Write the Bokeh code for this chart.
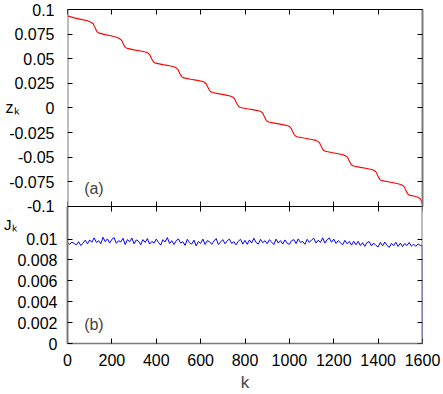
from bokeh.plotting import figure
from bokeh.models import Range1d, LinearAxis, FixedTicker, Label
from bokeh.embed import file_html
from bokeh.resources import INLINE

FONT = "Liberation Sans"

# ---- data ----
z_k = [0, 30, 60, 90, 108,
       116, 121, 125, 129, 134, 142, 170, 200, 225, 236,
       243, 248, 252, 256, 261, 269, 300, 330, 355, 364,
       371, 376, 380, 384, 389, 397, 430, 460, 482, 491,
       498, 503, 507, 511, 516, 524, 555, 585, 610, 619,
       626, 631, 635, 639, 644, 652, 685, 715, 737, 746,
       753, 758, 762, 766, 771, 779, 810, 840, 865, 874,
       881, 886, 890, 894, 899, 907, 940, 970, 993, 1002,
       1008, 1013, 1017, 1021, 1026, 1034, 1065, 1095, 1120, 1129,
       1136, 1141, 1145, 1149, 1154, 1162, 1195, 1225, 1247, 1256,
       1263, 1268, 1272, 1276, 1281, 1289, 1320, 1350, 1375, 1384,
       1391, 1396, 1400, 1404, 1409, 1417, 1450, 1480, 1502, 1511,
       1518, 1523, 1527, 1531, 1536, 1544, 1565, 1580, 1590, 1595, 1599]
z_val = [0.0935, 0.0915, 0.0900, 0.0885, 0.0868,
         0.0855, 0.0830, 0.0812, 0.0790, 0.0772, 0.0760, 0.0745, 0.0730, 0.0715, 0.0702,
         0.0690, 0.0667, 0.0650, 0.0630, 0.0615, 0.0605, 0.0590, 0.0578, 0.0565, 0.0555,
         0.0540, 0.0515, 0.0498, 0.0480, 0.0465, 0.0455, 0.0440, 0.0428, 0.0415, 0.0405,
         0.0390, 0.0365, 0.0348, 0.0330, 0.0315, 0.0305, 0.0292, 0.0280, 0.0268, 0.0258,
         0.0243, 0.0218, 0.0200, 0.0182, 0.0167, 0.0157, 0.0143, 0.0130, 0.0118, 0.0108,
         0.0093, 0.0068, 0.0050, 0.0032, 0.0017, 0.0005, -0.0008, -0.0020, -0.0032, -0.0042,
         -0.0057, -0.0082, -0.0100, -0.0118, -0.0133, -0.0143, -0.0157, -0.0170, -0.0182, -0.0192,
         -0.0207, -0.0232, -0.0250, -0.0268, -0.0283, -0.0293, -0.0306, -0.0318, -0.0330, -0.0340,
         -0.0355, -0.0380, -0.0398, -0.0416, -0.0431, -0.0441, -0.0455, -0.0468, -0.0480, -0.0490,
         -0.0505, -0.0530, -0.0548, -0.0566, -0.0581, -0.0591, -0.0604, -0.0616, -0.0628, -0.0638,
         -0.0653, -0.0678, -0.0696, -0.0714, -0.0729, -0.0739, -0.0753, -0.0766, -0.0778, -0.0788,
         -0.0803, -0.0828, -0.0846, -0.0864, -0.0879, -0.0889, -0.0898, -0.0908, -0.0925, -0.0945, -0.0975]

J_k = list(range(0, 1600, 10)) + [1599, 1600]
J_val = [0.00965, 0.00950, 0.00972, 0.00958, 0.00945, 0.00975, 0.00938, 0.00962, 0.00990, 0.00955,
         0.00992, 0.00970, 0.01012, 0.00968, 0.00985, 0.00955, 0.01018, 0.00975, 0.01002, 0.00962,
         0.00998, 0.01015, 0.00960, 0.00985, 0.00972, 0.01008, 0.00948, 0.00995, 0.00975, 0.01010,
         0.00955, 0.00992, 0.00980, 0.00945, 0.00995, 0.00968, 0.01005, 0.00952, 0.00978, 0.00962,
         0.01000, 0.00968, 0.00942, 0.00995, 0.00972, 0.01015, 0.00958, 0.00985, 0.00948, 0.00985,
         0.01002, 0.00962, 0.00975, 0.00940, 0.00998, 0.00965, 0.00952, 0.00990, 0.00935, 0.00978,
         0.00958, 0.01000, 0.00948, 0.00985, 0.00975, 0.00950, 0.00982, 0.01005, 0.00948, 0.00972,
         0.00995, 0.00955, 0.00985, 0.01000, 0.00958, 0.00975, 0.00945, 0.00980, 0.00998, 0.00952,
         0.00988, 0.00950, 0.00992, 0.00962, 0.01008, 0.00968, 0.00952, 0.00998, 0.00965, 0.00985,
         0.00955, 0.00995, 0.00970, 0.00948, 0.01000, 0.00962, 0.00985, 0.00952, 0.00992, 0.00960,
         0.00950, 0.00985, 0.00995, 0.00958, 0.01002, 0.00968, 0.00978, 0.00950, 0.00998, 0.00968,
         0.00992, 0.01008, 0.00962, 0.00990, 0.00968, 0.01012, 0.00962, 0.00995, 0.01010, 0.00970,
         0.01000, 0.00958, 0.00985, 0.00965, 0.00945, 0.00988, 0.00955, 0.00978, 0.00942, 0.00980,
         0.00945, 0.00978, 0.00938, 0.00965, 0.00930, 0.00968, 0.00975, 0.00935, 0.00962, 0.00940,
         0.00925, 0.00968, 0.00935, 0.00972, 0.00940, 0.00920, 0.00960, 0.00938, 0.00970, 0.00930,
         0.00962, 0.00928, 0.00958, 0.00938, 0.00968, 0.00932, 0.00952, 0.00930, 0.00955, 0.00938,
         0.00940, 0.0]

x_ticks = [0, 200, 400, 600, 800, 1000, 1200, 1400, 1600]
z_ticks = [-0.1, -0.075, -0.05, -0.025, 0.0, 0.025, 0.05, 0.075, 0.1]
z_tick_labels = ["-0.1", "-0.075", "-0.05", "-0.025", "0", "0.025", "0.05", "0.075", "0.1"]
J_ticks = [0.0, 0.002, 0.004, 0.006, 0.008, 0.01]
J_tick_labels = ["0", "0.002", "0.004", "0.006", "0.008", "0.01"]
z_name = "z\u2096"      # z with subscript k
J_name = "J\u2096"      # J with subscript k
z_name_at = 0.0         # vertical position of the z_k label (z units)
J_name_at = 0.0114      # vertical position of the J_k label (J units)

# panel limits
Z_MIN, Z_MAX = -0.1, 0.1
J_MIN, J_MAX = 0.0, 0.01314
K_MIN, K_MAX = 0, 1600

GRAY = "#7a7a7a"

# frame geometry (pixels)
FR_TOP, FR_BOT = 9, 345
TOP_PANEL_PX = 198
BOT_PANEL_PX = FR_BOT - FR_TOP - TOP_PANEL_PX
FRAME_PX = FR_BOT - FR_TOP
z_span = (Z_MAX - Z_MIN) * FRAME_PX / TOP_PANEL_PX
j_span = (J_MAX - J_MIN) * FRAME_PX / BOT_PANEL_PX


def make_axis(ticks, labels=None, line_color="black", line_width=1.0, standoff=10,
              size="16px", tin=5, tout=0, **kw):
    ax = LinearAxis(ticker=FixedTicker(ticks=ticks, minor_ticks=[]), **kw)
    ax.major_tick_in = tin
    ax.major_tick_out = tout
    ax.minor_tick_in = 0
    ax.minor_tick_out = 0
    ax.major_tick_line_color = "black" if (tin or tout) else None
    ax.axis_line_color = line_color
    ax.axis_line_width = line_width
    if labels is None:
        ax.major_label_text_font_size = "0px"
        ax.major_label_standoff = 0
    else:
        ax.major_label_overrides = {t: l for t, l in zip(ticks, labels)}
        ax.major_label_text_font_size = size
        ax.major_label_standoff = standoff
        ax.major_label_text_font = FONT
        ax.major_label_text_color = "black"
    return ax


p = figure(width=443, height=394,
           x_range=Range1d(K_MIN, K_MAX),
           y_range=Range1d(Z_MAX - z_span, Z_MAX),
           x_axis_location=None, y_axis_location=None,
           output_backend="svg", toolbar_location=None,
           min_border_left=67, min_border_right=21,
           min_border_top=FR_TOP, min_border_bottom=394 - FR_BOT)
p.extra_y_ranges = {"J": Range1d(J_MIN, J_MIN + j_span)}
p.outline_line_color = None
p.grid.visible = False

# curves
p.line(z_k, z_val, line_color="#ff0000", line_width=1.1)
p.line(J_k, J_val, line_color="#0000ff", line_width=1.0, y_range_name="J")

# ---- left side (innermost first) ----
p.add_layout(make_axis(J_ticks, J_tick_labels, GRAY, 2, standoff=10,
                       bounds=(J_MIN, J_MAX), y_range_name="J"), "left")
p.add_layout(make_axis(z_ticks, z_tick_labels, None, 1, standoff=-40, tin=0,
                       bounds=(Z_MIN, Z_MAX)), "left")
p.add_layout(make_axis([z_name_at], [z_name], None, 1, standoff=-13, tin=0,
                       bounds=(Z_MIN, Z_MAX)), "left")
p.add_layout(make_axis([J_name_at], [J_name], None, 1, standoff=-14, tin=0,
                       size="15px", bounds=(J_MIN, J_MAX), y_range_name="J"), "left")
p.add_layout(make_axis(z_ticks, None, GRAY, 2, bounds=(Z_MIN, Z_MAX),
                       fixed_location=K_MIN), "left")

# ---- right side (ticks only) ----
p.add_layout(make_axis(z_ticks, None, GRAY, 2, bounds=(Z_MIN, Z_MAX)), "right")
p.add_layout(make_axis(J_ticks, None, GRAY, 2, bounds=(J_MIN, J_MAX),
                       y_range_name="J", fixed_location=K_MAX), "right")

# ---- top, middle and bottom horizontal axes ----
p.add_layout(make_axis(x_ticks, None, "black", 1), "above")
p.add_layout(make_axis(x_ticks, None, "black", 1, tin=5, tout=5,
                       fixed_location=Z_MIN), "below")
xb = make_axis(x_ticks, [str(t) for t in x_ticks], GRAY, 1.5, standoff=10, size="16px")
xb.axis_label = "k"
xb.axis_label_text_font = FONT
xb.axis_label_text_font_style = "normal"
xb.axis_label_text_font_size = "17px"
xb.axis_label_standoff = 4
p.add_layout(xb, "below")

# panel tags
p.add_layout(Label(x=75, y=-0.0818, text="(a)", text_font=FONT, text_font_size="16px",
                   text_baseline="middle", text_align="left"))
p.add_layout(Label(x=75, y=0.00181, y_range_name="J", text="(b)", text_font=FONT,
                   text_font_size="16px", text_baseline="middle", text_align="left"))

open("out.html", "w").write(file_html(p, INLINE))
